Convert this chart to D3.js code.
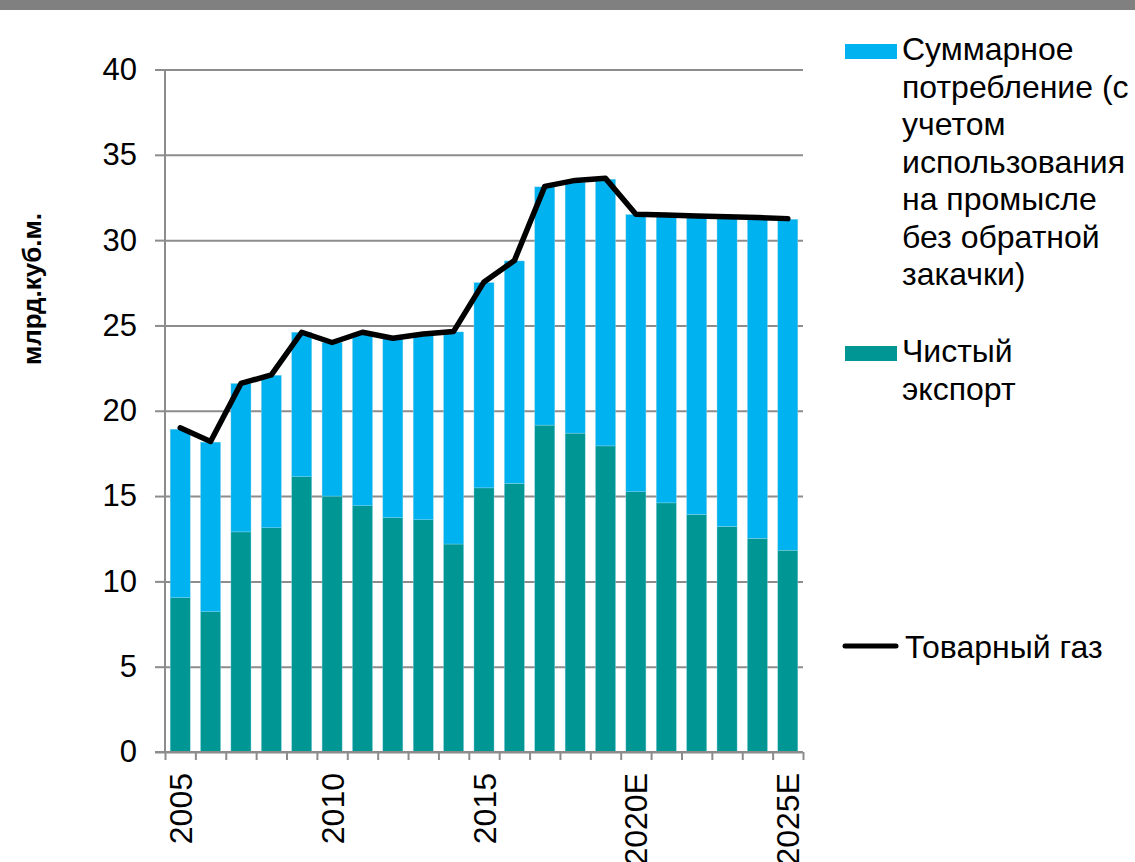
<!DOCTYPE html>
<html>
<head>
<meta charset="utf-8">
<script src="https://cdn.jsdelivr.net/npm/d3@7"></script>
<style>
  body { margin: 0; background: #fff; }
  svg { display: block; font-family: "Liberation Sans", Arial, sans-serif; }
</style>
</head>
<body>
<div id="chart"></div>
<script>
// categories (years) and the values, bcm
var years = ["2005", "2006", "2007", "2008", "2009", "2010", "2011", "2012", "2013", "2014",
  "2015", "2016", "2017", "2018", "2019", "2020E", "2021E", "2022E", "2023E", "2024E", "2025E"];
var shownLabels = ["2005", "2010", "2015", "2020E", "2025E"];

// net export (bottom, teal)
var netExport = [9.04, 8.22, 12.9, 13.14, 16.13, 15.0, 14.43, 13.73, 13.61, 12.19,
  15.48, 15.74, 19.16, 18.69, 17.94, 15.25, 14.6, 13.92, 13.22, 12.52, 11.83];
// total consumption (top, blue)
var consumption = [9.88, 9.94, 8.7, 8.94, 8.47, 9.0, 10.12, 10.52, 10.94, 12.43,
  12.03, 13.04, 13.96, 14.7, 15.63, 16.25, 16.8, 17.43, 18.08, 18.73, 19.39];
// marketable gas (line)
var marketGas = [19.0, 18.2, 21.6, 22.1, 24.6, 24.0, 24.6, 24.25, 24.5, 24.65,
  27.55, 28.8, 33.15, 33.5, 33.62, 31.52, 31.47, 31.42, 31.37, 31.32, 31.26];

var yTicks = [0, 5, 10, 15, 20, 25, 30, 35, 40];

(function () {
  var width = 1135, height = 862;
  var colBlue = "#00b2f0", colTeal = "#009694", gridCol = "#8c8c8c";
  var plotLeft = 165, plotRight = 803, plotTop = 69.5, plotBottom = 752;

  var svg = d3.select("#chart").append("svg")
    .attr("width", width)
    .attr("height", height);

  // grey band across the top
  svg.append("rect")
    .attr("x", 0).attr("y", 0)
    .attr("width", width).attr("height", 10)
    .attr("fill", "#7f807f");

  var x = d3.scaleBand()
    .domain(years)
    .range([plotLeft, plotRight])
    .paddingInner(0.34)
    .paddingOuter(0.17);

  var xEdges = d3.scaleLinear().domain([0, years.length]).range([plotLeft, plotRight]);

  var y = d3.scaleLinear().domain([0, 40]).range([plotBottom, plotTop]);

  // horizontal gridlines
  var grid = svg.append("g")
    .attr("transform", "translate(" + plotLeft + ",0)")
    .call(d3.axisRight(y).tickValues(yTicks).tickSize(plotRight - plotLeft).tickFormat(""));
  grid.select(".domain").remove();
  grid.selectAll("line").attr("stroke", gridCol).attr("stroke-width", 2);

  // stacked bars
  var stacked = years.map(function (d, i) {
    return { year: d, exp: netExport[i], cons: consumption[i] };
  });
  var stack = d3.stack().keys(["exp", "cons"])(stacked);
  var colors = { exp: colTeal, cons: colBlue };

  svg.append("g").selectAll("g")
    .data(stack)
    .enter().append("g")
    .attr("fill", function (d) { return colors[d.key]; })
    .selectAll("rect")
    .data(function (d) { return d; })
    .enter().append("rect")
    .attr("x", function (d) { return x(d.data.year); })
    .attr("width", x.bandwidth())
    .attr("y", function (d) { return y(d[1]); })
    .attr("height", function (d) { return y(d[0]) - y(d[1]); })
    .attr("stroke", "#8fd6e6")
    .attr("stroke-width", 0.4);

  // y axis
  var yAxis = svg.append("g")
    .attr("transform", "translate(" + plotLeft + ",0)")
    .call(d3.axisLeft(y).tickValues(yTicks).tickSize(10).tickSizeOuter(0).tickPadding(18));
  yAxis.selectAll("line, path").attr("stroke", gridCol).attr("stroke-width", 2);
  yAxis.selectAll("text").attr("fill", "#000").style("font-size", "31px");
  yAxis.select(".domain").attr("d", "M0," + y(0) + "V" + y(40));

  // x axis: ticks at the band edges
  var xTickAxis = svg.append("g")
    .attr("transform", "translate(0," + plotBottom + ")")
    .call(d3.axisBottom(xEdges).tickValues(d3.range(years.length + 1)).tickSize(8).tickSizeOuter(0).tickFormat(""));
  xTickAxis.selectAll("line, path").attr("stroke", gridCol).attr("stroke-width", 2);
  xTickAxis.select(".domain").attr("d", "M" + (plotLeft - 10) + ",0H" + plotRight);

  // x labels, rotated
  var xLab = svg.append("g")
    .attr("transform", "translate(0," + plotBottom + ")")
    .call(d3.axisBottom(x).tickSize(0).tickFormat(function (d) {
      return shownLabels.indexOf(d) >= 0 ? d : "";
    }));
  xLab.select(".domain").remove();
  xLab.selectAll("text")
    .attr("transform", "rotate(-90)")
    .attr("x", -21)
    .attr("y", 0)
    .attr("dy", "0.36em")
    .attr("fill", "#000")
    .style("text-anchor", "end")
    .style("font-size", "32px");

  // marketable gas line
  var line = d3.line()
    .x(function (d, i) { return x(years[i]) + x.bandwidth() / 2; })
    .y(function (d) { return y(d); });

  svg.append("path")
    .datum(marketGas)
    .attr("d", line)
    .attr("fill", "none")
    .attr("stroke", "#000")
    .attr("stroke-width", 5.5)
    .attr("stroke-linejoin", "round")
    .attr("stroke-linecap", "round");

  // y title
  svg.append("text")
    .attr("transform", "translate(41,289) rotate(-90)")
    .attr("text-anchor", "middle")
    .style("font-size", "26px")
    .style("font-weight", "bold")
    .text("млрд.куб.м.");

  // legend
  var legendLines = [
    ["Суммарное", "потребление (с", "учетом", "использования", "на промысле", "без обратной", "закачки)"],
    ["Чистый", "экспорт"],
    ["Товарный газ"]
  ];
  var legendTop = [60, 362, 658];
  var lineGap = 37.5;
  var legend = svg.append("g").style("font-size", "32px");

  legendLines.forEach(function (lines, k) {
    var g = legend.append("g");
    if (k < 2) {
      g.append("rect")
        .attr("x", 845).attr("y", legendTop[k] - 16)
        .attr("width", 52).attr("height", 15)
        .attr("fill", k === 0 ? colBlue : colTeal);
    } else {
      g.append("line")
        .attr("x1", 845).attr("x2", 896)
        .attr("y1", legendTop[k] - 12).attr("y2", legendTop[k] - 12)
        .attr("stroke", "#000").attr("stroke-width", 5)
        .attr("stroke-linecap", "round");
    }
    g.selectAll("text")
      .data(lines)
      .enter().append("text")
      .attr("x", k < 2 ? 902 : 905)
      .attr("y", function (d, i) { return legendTop[k] + i * lineGap; })
      .attr("fill", "#000")
      .text(function (d) { return d; });
  });
})();
</script>
</body>
</html>
